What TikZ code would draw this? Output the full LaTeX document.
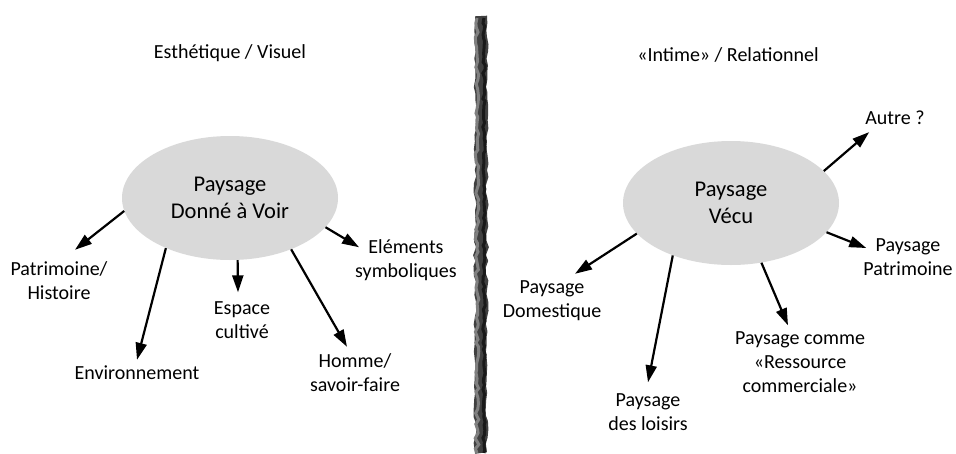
\documentclass[tikz,border=0pt]{standalone}
\usepackage{fontspec}
\setmainfont{Carlito}
\usetikzlibrary{arrows.meta,shapes.geometric,decorations.pathmorphing}

\begin{document}
\begin{tikzpicture}[x=1pt, y=-1pt, >={Triangle[length=17pt,width=11pt]},
	   lbl/.style={align=center, inner sep=2pt, text=black, font=\fontsize{20}{24}\selectfont},
	   big/.style={ellipse, fill=black!15, minimum width=216pt, minimum height=124pt, inner sep=0pt,
	     align=center, text=black, font=\fontsize{22.5}{27}\selectfont},
	   arr/.style={->, line width=2.2pt}]
	  \useasboundingbox[fill=white] (0,0) rectangle (956,453);
	  % left half
	  \node[lbl] (t1) at (230,53) {Esthétique / Visuel};
	  \node[big] (e1) at (230,198) {Paysage\\ Donné à Voir};
	  \node[lbl] (pat) at (59,281) {Patrimoine/\\ Histoire};
	  \node[lbl] (env) at (137,373) {Environnement};
	  \node[lbl] (esp) at (242,320) {Espace\\ cultivé};
	  \node[lbl] (hom) at (355,373) {Homme/\\ savoir-faire};
	  \node[lbl] (ele) at (406,260) {Eléments\\ symboliques};
	  \draw[arr] (e1.187) -- ([xshift=16pt,yshift=10pt]pat.north);
	  \draw[arr] (e1.218) -- ([yshift=4pt]env.north);
	  \draw[arr] (e1.277) -- ([xshift=-4pt,yshift=7pt]esp.north);
	  \draw[arr] (e1.320) -- ([xshift=-8pt,yshift=5pt]hom.north);
	  \draw[arr] (e1.343) -- ([xshift=6pt,yshift=-10pt]ele.north west);
	  % divider
	  \pgfmathsetseed{7}
	  \draw[black!75, line width=12pt, decorate, decoration={random steps, segment length=7pt, amplitude=1.5pt}]
	    (481,16) -- (481,453);
	  \draw[black!50, line width=3pt, decorate, decoration={random steps, segment length=5pt, amplitude=1.8pt}]
	    (477,18) -- (477,453);
	  \draw[black!90, line width=3pt, decorate, decoration={random steps, segment length=4pt, amplitude=1.2pt}]
	    (484,18) -- (484,453);
	  % right half
	  \node[lbl] (t2) at (728,55) {«Intime» / Relationnel};
	  \node[big] (e2) at (731,203) {Paysage\\ Vécu};
	  \node[lbl] (aut) at (895,118) {Autre ?};
	  \node[lbl] (pp) at (908,257) {Paysage\\ Patrimoine};
	  \node[lbl] (pd) at (552,301) {Paysage\\ Domestique};
	  \node[lbl] (pl) at (648,412) {Paysage\\ des loisirs};
	  \node[lbl] (pr) at (800,362) {Paysage comme\\ «Ressource\\ commerciale»};
	  \draw[arr] (e2.19) -- ([xshift=6pt,yshift=-5pt]aut.south west);
	  \draw[arr] (e2.343) -- ([xshift=5pt,yshift=9pt]pp.west);
	  \draw[arr] (e2.198) -- ([xshift=23pt,yshift=5pt]pd.north);
	  \draw[arr] (e2.222) -- ([yshift=9pt]pl.north);
	  \draw[arr] (e2.297) -- ([xshift=-12pt,yshift=4pt]pr.north);
	\end{tikzpicture}
\end{document}
